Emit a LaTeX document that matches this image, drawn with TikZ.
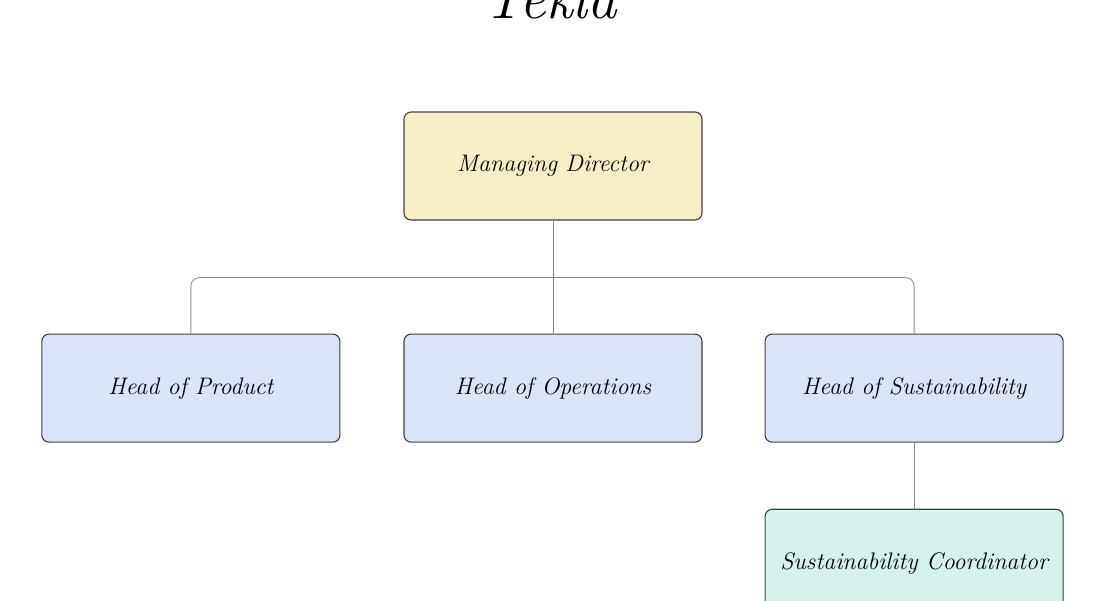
\documentclass[tikz,border=0pt]{standalone}
\usepackage{tikz}
\usetikzlibrary{positioning}
\definecolor{leadyellow}{HTML}{F7EEC6}
\definecolor{headblue}{HTML}{DAE4F6}
\definecolor{coordmint}{HTML}{D3F2EC}

\begin{document}
\begin{tikzpicture}[
  node distance=2.825cm and 1.575cm,
  box/.style={draw=black!75, line width=0.8pt, rounded corners=5pt, align=center,
              minimum width=7.45cm, minimum height=2.7cm, inner sep=0pt,
              font=\fontsize{17}{20}\selectfont\itshape},
  link/.style={draw=black!45, line width=0.6pt, rounded corners=6pt}]
\useasboundingbox (0,0) rectangle (27.375,-15);
\node[font=\fontsize{42}{48}\selectfont\itshape, anchor=base] (title) at (13.75,-0.45) {Tekla};
\node[box, fill=leadyellow] (md) at (13.825,-4.15) {Managing Director};
\node[box, fill=headblue, below=of md] (ops) {Head of Operations};
\node[box, fill=headblue, left=of ops] (prod) {Head of Product};
\node[box, fill=headblue, right=1.55cm of ops] (sust) {Head of Sustainability};
\node[box, fill=coordmint, below=1.65cm of sust] (coord) {Sustainability Coordinator};
\coordinate (bus) at ([yshift=-1.425cm]md.south);
\draw[link] (prod.north) |- (bus) -| (sust.north);
\draw[link] (md.south) -- (ops.north);
\draw[link] (sust.south) -- (coord.north);
\end{tikzpicture}
\end{document}
